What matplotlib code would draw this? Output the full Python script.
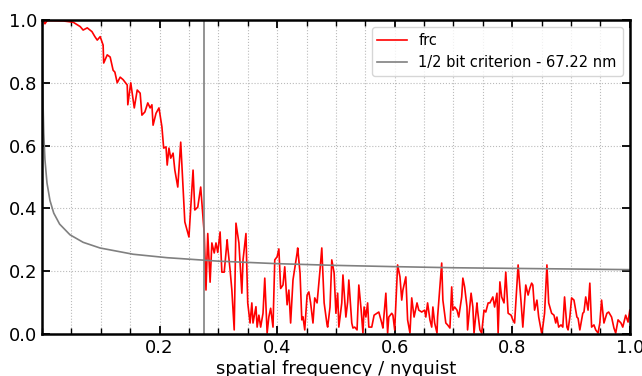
import numpy as np
import matplotlib
matplotlib.use("Agg")
import matplotlib.pyplot as plt
from matplotlib.ticker import MultipleLocator

# frc curve (spatial frequency / nyquist, correlation)
freq = [0.0, 0.003, 0.005, 0.008, 0.010, 0.036, 0.053, 0.065, 0.070, 0.077, 0.085, 0.090,
        0.094, 0.099, 0.104, 0.105, 0.111, 0.116, 0.121, 0.124, 0.128, 0.133,
        0.138, 0.145, 0.146, 0.151, 0.157, 0.162, 0.167, 0.170, 0.175, 0.180,
        0.184, 0.187, 0.189, 0.194, 0.199, 0.204, 0.207, 0.211, 0.213, 0.216,
        0.219, 0.223, 0.226, 0.231, 0.236, 0.243, 0.250, 0.257, 0.260, 0.265,
        0.270, 0.276, 0.279, 0.282, 0.286, 0.289, 0.293, 0.296, 0.299, 0.303,
        0.306, 0.310, 0.315, 0.316,
        0.320, 0.323, 0.327, 0.330, 0.335, 0.340, 0.342, 0.347, 0.350, 0.354,
        0.357, 0.359, 0.364, 0.366, 0.369, 0.372, 0.376, 0.379, 0.383, 0.386,
        0.389, 0.393, 0.396, 0.400, 0.403, 0.406, 0.410, 0.413, 0.417, 0.420,
        0.423, 0.427, 0.434, 0.435, 0.439, 0.442, 0.444, 0.447, 0.451, 0.454,
        0.457, 0.461, 0.464, 0.468, 0.473, 0.476, 0.480, 0.485, 0.486, 0.490,
        0.493, 0.497, 0.500, 0.503, 0.505, 0.510, 0.512, 0.517, 0.520, 0.522,
        0.527, 0.529, 0.532, 0.536, 0.539, 0.543, 0.546, 0.548, 0.551, 0.554,
        0.556, 0.561, 0.565, 0.570, 0.573, 0.578, 0.580, 0.585, 0.588, 0.590,
        0.595, 0.597, 0.600, 0.605, 0.609, 0.612, 0.614, 0.619, 0.622, 0.626,
        0.629, 0.633, 0.638, 0.641, 0.646, 0.651, 0.653, 0.656, 0.660, 0.663,
        0.665, 0.668, 0.672, 0.673, 0.680, 0.682, 0.687, 0.690, 0.694, 0.697,
        0.699, 0.702, 0.706, 0.709, 0.714, 0.716, 0.719, 0.723, 0.724, 0.730,
        0.733, 0.735, 0.740, 0.741, 0.745, 0.748, 0.752, 0.755, 0.759, 0.762,
        0.767, 0.770, 0.774, 0.776, 0.779, 0.782, 0.786, 0.789, 0.793, 0.798,
        0.801, 0.804, 0.810, 0.815, 0.818, 0.823, 0.827, 0.830, 0.833, 0.835,
        0.838, 0.842, 0.845, 0.850, 0.852, 0.855, 0.859, 0.862, 0.867, 0.871,
        0.874, 0.876, 0.879, 0.883, 0.886, 0.889, 0.893, 0.895, 0.898, 0.901,
        0.905, 0.910, 0.912, 0.915, 0.920, 0.922, 0.925, 0.929, 0.932, 0.935,
        0.939, 0.942, 0.946, 0.949, 0.952, 0.956, 0.961, 0.964, 0.969, 0.973,
        0.976, 0.980, 0.985, 0.988, 0.993, 0.997, 1.000]
frc = [0.998, 0.996, 0.988, 0.996, 0.998, 0.997, 0.993, 0.979, 0.968, 0.975, 0.963, 0.947,
       0.936, 0.947, 0.920, 0.863, 0.889, 0.882, 0.840, 0.834, 0.800, 0.818,
       0.810, 0.793, 0.730, 0.800, 0.720, 0.777, 0.767, 0.697, 0.707, 0.736,
       0.720, 0.730, 0.665, 0.703, 0.720, 0.660, 0.592, 0.596, 0.538, 0.592,
       0.560, 0.576, 0.522, 0.468, 0.611, 0.357, 0.309, 0.522, 0.395, 0.404,
       0.468, 0.320, 0.140, 0.320, 0.165, 0.290, 0.258, 0.290, 0.260, 0.325,
       0.197, 0.197, 0.300, 0.277,
       0.204, 0.140, 0.013, 0.353, 0.290, 0.130, 0.236, 0.320, 0.099, 0.035,
       0.099, 0.035, 0.087, 0.022, 0.060, 0.022, 0.066, 0.178, 0.003, 0.055,
       0.082, 0.022, 0.236, 0.246, 0.271, 0.145, 0.156, 0.214, 0.093, 0.140,
       0.035, 0.172, 0.258, 0.274, 0.194, 0.045, 0.055, 0.013, 0.124, 0.134,
       0.099, 0.035, 0.115, 0.099, 0.204, 0.274, 0.099, 0.029, 0.022, 0.086,
       0.236, 0.194, 0.066, 0.130, 0.022, 0.099, 0.188, 0.054, 0.102, 0.172,
       0.035, 0.019, 0.022, 0.013, 0.156, 0.076, 0.003, 0.086, 0.054, 0.099,
       0.022, 0.022, 0.060, 0.066, 0.070, 0.035, 0.019, 0.130, 0.003, 0.054,
       0.066, 0.060, 0.013, 0.220, 0.182, 0.108, 0.140, 0.182, 0.045, 0.003,
       0.115, 0.054, 0.099, 0.076, 0.070, 0.076, 0.054, 0.099, 0.045, 0.022,
       0.086, 0.035, 0.003, 0.054, 0.226, 0.108, 0.035, 0.029, 0.019, 0.150,
       0.076, 0.086, 0.076, 0.054, 0.118, 0.178, 0.150, 0.086, 0.013, 0.130,
       0.086, 0.003, 0.099, 0.076, 0.013, 0.003, 0.076, 0.070, 0.099, 0.099,
       0.118, 0.086, 0.130, 0.003, 0.166, 0.118, 0.099, 0.197, 0.066, 0.060,
       0.045, 0.035, 0.220, 0.102, 0.022, 0.156, 0.124, 0.146, 0.162, 0.156,
       0.076, 0.108, 0.054, 0.003, 0.022, 0.066, 0.220, 0.099, 0.066, 0.060,
       0.035, 0.054, 0.022, 0.029, 0.022, 0.118, 0.022, 0.013, 0.054, 0.115,
       0.108, 0.054, 0.050, 0.013, 0.066, 0.070, 0.118, 0.076, 0.162, 0.022,
       0.029, 0.013, 0.003, 0.035, 0.108, 0.035, 0.066, 0.070, 0.054, 0.019,
       0.003, 0.045, 0.035, 0.022, 0.060, 0.038, 0.076]

# half bit threshold curve
crit_freq = [0.0005, 0.001, 0.002, 0.003, 0.005, 0.0085, 0.0136, 0.02, 0.03,
             0.0476, 0.07, 0.0986, 0.155, 0.213, 0.3, 0.4, 0.5, 0.6, 0.7, 0.8,
             0.9, 1.0]
crit = [1.02, 0.862, 0.717, 0.641, 0.556, 0.481, 0.425, 0.385, 0.350,
        0.316, 0.292, 0.274, 0.254, 0.243, 0.232, 0.224, 0.2185, 0.2145,
        0.211, 0.209, 0.207, 0.205]

resolution_freq = 0.2755
crit_label = "1/2 bit criterion - 67.22 nm"

fig = plt.figure(figsize=(6.42, 3.76), dpi=100)
ax = fig.add_axes([0.0654, 0.1117, 0.9156, 0.8351])

ax.plot(freq, frc, color="red", lw=1.2, label="frc")
ax.plot(crit_freq, crit, color="gray", lw=1.2, label=crit_label)
ax.axvline(resolution_freq, color="gray", lw=1.2)

ax.set_xlim(0, 1)
ax.set_ylim(0, 1)
ax.set_xticks([0.2, 0.4, 0.6, 0.8, 1.0])
ax.xaxis.set_minor_locator(MultipleLocator(0.05))
ax.set_yticks([0.0, 0.2, 0.4, 0.6, 0.8, 1.0])
ax.tick_params(which="both", direction="in", top=True, right=True, labelsize=13)
ax.tick_params(which="major", length=6, width=1.3)
ax.tick_params(which="minor", length=4, width=1.0)
ax.grid(which="both", axis="x", ls=":", color="#bbbbbb", lw=0.8)
ax.grid(which="major", axis="y", ls=":", color="#bbbbbb", lw=0.8)
for s in ax.spines.values():
    s.set_linewidth(1.8)

ax.set_xlabel("spatial frequency / nyquist", fontsize=13, labelpad=2)
ax.legend(loc="upper right", fontsize=10.5)

fig.savefig("out.png", dpi=100)
